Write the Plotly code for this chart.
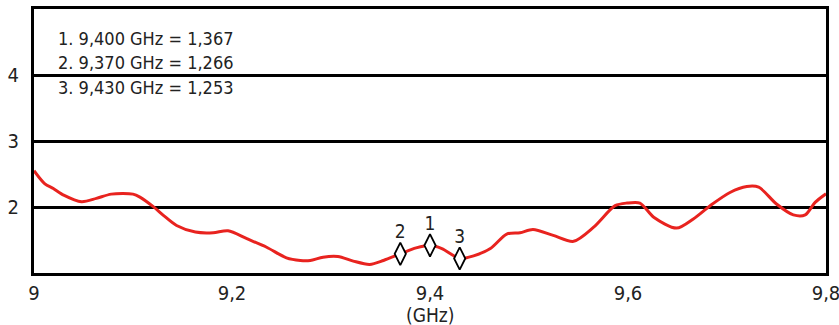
import plotly.graph_objects as go

# Curve (frequency in GHz, VSWR)
freq = [9.000, 9.011, 9.0195, 9.030, 9.048, 9.063, 9.078, 9.100, 9.107, 9.1205,
        9.131, 9.144, 9.163, 9.181, 9.196, 9.215, 9.235, 9.255, 9.269, 9.279,
        9.292, 9.307, 9.3225, 9.339, 9.353, 9.370, 9.386, 9.400, 9.412, 9.430,
        9.444, 9.461, 9.4775, 9.491, 9.504, 9.5245, 9.545, 9.565, 9.587, 9.599,
        9.612, 9.626, 9.649, 9.666, 9.683, 9.703, 9.720, 9.732, 9.750, 9.767,
        9.779, 9.789, 9.800]
vswr = [2.55, 2.35, 2.28, 2.18, 2.08, 2.13, 2.195, 2.195, 2.15, 2.005,
        1.87, 1.72, 1.62, 1.61, 1.64, 1.52, 1.39, 1.23, 1.19, 1.19,
        1.24, 1.25, 1.18, 1.13, 1.19, 1.29, 1.38, 1.42, 1.37, 1.22,
        1.26, 1.37, 1.59, 1.61, 1.66, 1.57, 1.48, 1.69, 2.02, 2.06,
        2.06, 1.845, 1.68, 1.82, 2.02, 2.22, 2.31, 2.30, 2.045, 1.88,
        1.88, 2.07, 2.20]

marker_labels = ["2", "1", "3"]
marker_freq = [9.370, 9.400, 9.430]
marker_vswr = [1.29, 1.42, 1.22]

legend_lines = ["1. 9,400 GHz = 1,367", "2. 9,370 GHz = 1,266", "3. 9,430 GHz = 1,253"]

x_tickvals = [9.0, 9.2, 9.4, 9.6, 9.8]
x_ticktext = ["9", "9,2", "9,4", "9,6", "9,8"]
y_tickvals = [2, 3, 4]
y_ticktext = ["2", "3", "4"]

FONT = "DejaVu Sans Condensed, DejaVu Sans, sans-serif"

fig = go.Figure()
fig.add_trace(go.Scatter(x=freq, y=vswr, mode="lines",
                         line=dict(color="#e8231f", width=3, shape="spline", smoothing=0.8),
                         hoverinfo="skip"))
fig.add_trace(go.Scatter(x=marker_freq, y=marker_vswr, mode="markers+text",
                         text=marker_labels, textposition="top center",
                         textfont=dict(family=FONT, size=19, color="#222"),
                         marker=dict(symbol="diamond-tall", size=16, color="white",
                                     line=dict(color="black", width=1.8))))

for i, t in enumerate(legend_lines):
    fig.add_annotation(x=0.028, y=0.89 - i * 0.093, xref="paper", yref="paper",
                       text=t, showarrow=False, xanchor="left", yanchor="middle",
                       font=dict(family=FONT, size=18, color="#222"))

fig.add_annotation(x=9.4, y=-0.11, xref="x", yref="paper", text="(GHz)",
                   showarrow=False, xanchor="center", yanchor="top",
                   font=dict(family=FONT, size=19, color="#222"))

fig.update_layout(
    width=839, height=325,
    margin=dict(l=34, r=13, t=9, b=52, autoexpand=False),
    paper_bgcolor="white", plot_bgcolor="white",
    showlegend=False,
    xaxis=dict(range=[9.0, 9.8], tickvals=x_tickvals, ticktext=x_ticktext,
               showgrid=False, zeroline=False, showline=True, mirror=True,
               linecolor="black", linewidth=3, ticks="", automargin=False,
               ticklabeloverflow="allow",
               tickfont=dict(family=FONT, size=20, color="#222")),
    yaxis=dict(range=[1.0, 5.0], tickvals=y_tickvals, ticktext=y_ticktext,
               showgrid=True, gridcolor="black", gridwidth=2.5, zeroline=False,
               showline=True, mirror=True, linecolor="black", linewidth=3, ticks="",
               automargin=False, ticklabelstandoff=8,
               tickfont=dict(family=FONT, size=20, color="#222")),
)

fig.write_html("out.html", config={"displayModeBar": False},
               post_script="document.body.style.margin='0';document.body.style.overflow='hidden';")
